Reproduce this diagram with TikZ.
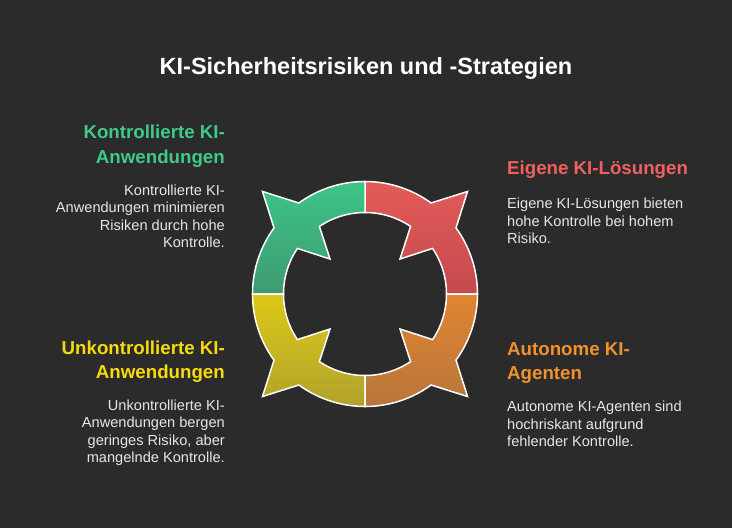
\documentclass[tikz,border=0pt]{standalone}
\usepackage{fontspec}
\setmainfont{Liberation Sans}
\definecolor{bg}{HTML}{2B2B2B}
\definecolor{greentop}{HTML}{3DC587}
\definecolor{greenbot}{HTML}{3E9A72}
\definecolor{redtop}{HTML}{E35B58}
\definecolor{redbot}{HTML}{C44A4E}
\definecolor{orgtop}{HTML}{E18530}
\definecolor{orgbot}{HTML}{B8763C}
\definecolor{yeltop}{HTML}{DCC918}
\definecolor{yelbot}{HTML}{B0A22B}
\definecolor{hgreen}{HTML}{40C98A}
\definecolor{hred}{HTML}{F0605D}
\definecolor{horange}{HTML}{F2922F}
\definecolor{hyellow}{HTML}{F6DA0D}
\definecolor{bodytxt}{HTML}{E6E6E6}
\tikzset{
  titletxt/.style={text=white,font=\fontsize{23.5}{28}\selectfont\bfseries,inner sep=0pt},
  headR/.style={font=\fontsize{18.7}{22}\selectfont\bfseries,inner sep=0pt,anchor=base east},
  headL/.style={font=\fontsize{18.7}{22}\selectfont\bfseries,inner sep=0pt,anchor=base west},
  bodyR/.style={text=bodytxt,font=\fontsize{14.6}{17}\selectfont,inner sep=0pt,anchor=base east},
  bodyL/.style={text=bodytxt,font=\fontsize{14.6}{17}\selectfont,inner sep=0pt,anchor=base west},
  seg/.style={draw=white,line width=1.5pt,line join=miter}
}
\begin{document}
\begin{tikzpicture}[x=1pt,y=-1pt]
\fill[bg] (0,0) rectangle (732,528);
\useasboundingbox (0,0) rectangle (732,528);
\node[titletxt,anchor=base] (title) at (366,74.3) {KI-Sicherheitsrisiken und -Strategien};
\begin{scope}[shift={(365,294)},x=1pt,y=1pt]
\foreach \a/\tc/\bc/\nm in {0/redtop/redbot/qred,90/greentop/greenbot/qgreen,180/yeltop/yelbot/qyellow,270/orgtop/orgbot/qorange}{
  \pgfmathsetmacro\m{\a+45}
  \pgfmathsetmacro\oa{\m-9}
  \pgfmathsetmacro\ob{\m+9}
  \pgfmathsetmacro\ia{\m-11}
  \pgfmathsetmacro\ib{\m+11}
  \pgfmathsetmacro\e{\a+90}
  \path[seg,top color=\tc,bottom color=\bc]
    (\a:112.5) arc[start angle=\a,end angle=\oa,radius=112.5]
    -- (\m:145) -- (\ob:112.5)
    arc[start angle=\ob,end angle=\e,radius=112.5]
    -- (\e:81.5)
    arc[start angle=\e,end angle=\ib,radius=81.5]
    -- (\m:49.5) -- (\ia:81.5)
    arc[start angle=\ia,end angle=\a,radius=81.5] -- cycle;
}
\end{scope}
% top left
\node[headR,text=hgreen] (h1a) at (225,138.3) {Kontrollierte KI-};
\node[headR,text=hgreen] (h1b) at (225,163.3) {Anwendungen};
\node[bodyR] (b1a) at (225,195) {Kontrollierte KI-};
\node[bodyR] (b1b) at (225,212.7) {Anwendungen minimieren};
\node[bodyR] (b1c) at (225,230.2) {Risiken durch hohe};
\node[bodyR] (b1d) at (225,247.7) {Kontrolle.};
% top right
\node[headL,text=hred] (h2a) at (507,174.3) {Eigene KI-Lösungen};
\node[bodyL] (b2a) at (507,208.3) {Eigene KI-Lösungen bieten};
\node[bodyL] (b2b) at (507,226) {hohe Kontrolle bei hohem};
\node[bodyL] (b2c) at (507,243.4) {Risiko.};
% bottom right
\node[headL,text=horange] (h3a) at (507,355) {Autonome KI-};
\node[headL,text=horange] (h3b) at (507,379.3) {Agenten};
\node[bodyL] (b3a) at (507,411.7) {Autonome KI-Agenten sind};
\node[bodyL] (b3b) at (507,429.3) {hochriskant aufgrund};
\node[bodyL] (b3c) at (507,446.7) {fehlender Kontrolle.};
% bottom left
\node[headR,text=hyellow] (h4a) at (225,354) {Unkontrollierte KI-};
\node[headR,text=hyellow] (h4b) at (225,378.5) {Anwendungen};
\node[bodyR] (b4a) at (225,410) {Unkontrollierte KI-};
\node[bodyR] (b4b) at (225,427.5) {Anwendungen bergen};
\node[bodyR] (b4c) at (225,445) {geringes Risiko, aber};
\node[bodyR] (b4d) at (225,462.3) {mangelnde Kontrolle.};
\end{tikzpicture}
\end{document}
